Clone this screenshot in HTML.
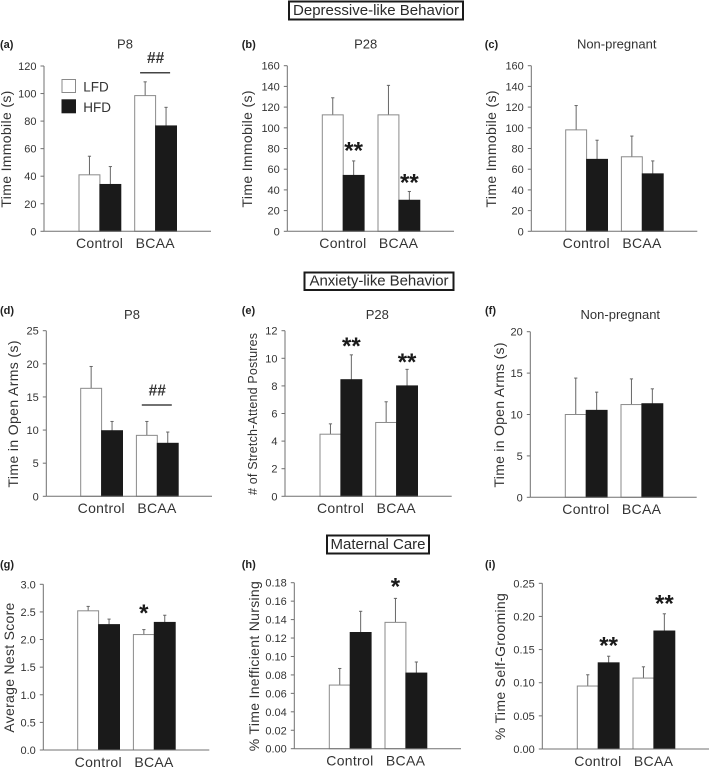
<!DOCTYPE html>
<html>
<head>
<meta charset="utf-8">
<title>Behavior bar charts</title>
<style>
html,body{margin:0;padding:0;background:#fff;width:709px;height:768px;overflow:hidden}
svg{display:block;font-family:"Liberation Sans",Arial,sans-serif}
</style>
</head>
<body>
<svg id="fig" width="709" height="768" viewBox="0 0 709 768" xmlns="http://www.w3.org/2000/svg">
  <g>
    <rect x="289" y="1.5" width="174" height="18" fill="#fff" stroke="#1a1a1a" stroke-width="2"/>
    <text x="376" y="15" text-anchor="middle" font-size="15" fill="#2a2a2a" textLength="166">Depressive-like Behavior</text>
  </g>
  <g>
    <rect x="304.5" y="272.5" width="149" height="17.5" fill="#fff" stroke="#1a1a1a" stroke-width="2"/>
    <text x="379" y="285.5" text-anchor="middle" font-size="15" fill="#2a2a2a" textLength="139">Anxiety-like Behavior</text>
  </g>
  <g>
    <rect x="327" y="535.5" width="102" height="18" fill="#fff" stroke="#1a1a1a" stroke-width="2"/>
    <text x="378" y="549" text-anchor="middle" font-size="15" fill="#2a2a2a" textLength="95">Maternal Care</text>
  </g>
</svg>
<script>
const categories = ['Control', 'BCAA'];
const seriesNames = ['LFD', 'HFD'];

const aTicks = ['0', '20', '40', '60', '80', '100', '120'];
const aLfd = [41, 98.5];
const aHfd = [34, 76.5];
const aLfdErr = [13.5, 10];
const aHfdErr = [13, 13.5];

const bTicks = ['0', '20', '40', '60', '80', '100', '120', '140', '160'];
const bLfd = [112.5, 112.5];
const bHfd = [54, 30];
const bLfdErr = [16.5, 28.5];
const bHfdErr = [14, 8.5];

const cTicks = ['0', '20', '40', '60', '80', '100', '120', '140', '160'];
const cLfd = [98, 72];
const cHfd = [69.5, 55.5];
const cLfdErr = [23.5, 20];
const cHfdErr = [18.5, 12.5];

const dTicks = ['0', '5', '10', '15', '20', '25'];
const dLfd = [16.3, 9.2];
const dHfd = [9.9, 8];
const dLfdErr = [3.3, 2.1];
const dHfdErr = [1.4, 1.7];

const eTicks = ['0', '2', '4', '6', '8', '10', '12'];
const eLfd = [4.5, 5.35];
const eHfd = [8.45, 8];
const eLfdErr = [0.75, 1.5];
const eHfdErr = [1.8, 1.2];

const fTicks = ['0', '5', '10', '15', '20'];
const fLfd = [10, 11.2];
const fHfd = [10.5, 11.3];
const fLfdErr = [4.4, 3.1];
const fHfdErr = [2.2, 1.8];

const gTicks = ['0.0', '0.5', '1.0', '1.5', '2.0', '2.5', '3.0'];
const gLfd = [2.52, 2.09];
const gHfd = [2.27, 2.31];
const gLfdErr = [0.08, 0.09];
const gHfdErr = [0.1, 0.13];

const hTicks = ['0.00', '0.02', '0.04', '0.06', '0.08', '0.10', '0.12', '0.14', '0.16', '0.18'];
const hLfd = [0.069, 0.137];
const hHfd = [0.126, 0.082];
const hLfdErr = [0.018, 0.026];
const hHfdErr = [0.023, 0.012];

const iTicks = ['0.00', '0.05', '0.10', '0.15', '0.20', '0.25'];
const iLfd = [0.095, 0.107];
const iHfd = [0.13, 0.178];
const iLfdErr = [0.017, 0.017];
const iHfdErr = [0.01, 0.026];

const panels = [
  {id:'a', letterX:0, letterY:48, title:'P8', titleX:125, titleY:48.5, yTitle:'Time Immobile (s)', yTitleX:11, yTitleLen:117, yFont:14,
   axisX:44, top:66, bottom:231.3, right:211, barStart:79, ticks:aTicks, lfd:aLfd, hfd:aHfd, lfdErr:aLfdErr, hfdErr:aHfdErr,
   stars:[], hash:[{group:1, level:115.1}]},
  {id:'b', letterX:241.7, letterY:48, title:'P28', titleX:365.7, titleY:48.5, yTitle:'Time Immobile (s)', yTitleX:252, yTitleLen:117, yFont:14,
   axisX:287.3, top:65.7, bottom:231.3, right:454, barStart:322.3, ticks:bTicks, lfd:bLfd, hfd:bHfd, lfdErr:bLfdErr, hfdErr:bHfdErr,
   stars:[{group:0, bar:1, level:82.4, mark:'**'}, {group:1, bar:1, level:51.5, mark:'**'}], hash:[]},
  {id:'c', letterX:484.7, letterY:48, title:'Non-pregnant', titleX:616.7, titleY:48.5, yTitle:'Time Immobile (s)', yTitleX:496, yTitleLen:117, yFont:14,
   axisX:531.3, top:65.7, bottom:231.3, right:697.3, barStart:565.7, ticks:cTicks, lfd:cLfd, hfd:cHfd, lfdErr:cLfdErr, hfdErr:cHfdErr,
   stars:[], hash:[]},
  {id:'d', letterX:0, letterY:314, title:'P8', titleX:132, titleY:319, yTitle:'Time in Open Arms (s)', yTitleX:18, yTitleLen:147, yFont:14,
   axisX:46.3, top:330.7, bottom:496.3, right:212, barStart:80.7, ticks:dTicks, lfd:dLfd, hfd:dHfd, lfdErr:dLfdErr, hfdErr:dHfdErr,
   stars:[], hash:[{group:1, level:13.78}]},
  {id:'e', letterX:241.7, letterY:314, title:'P28', titleX:377.3, titleY:319, yTitle:'# of Stretch-Attend Postures', yTitleX:257, yTitleLen:162, yFont:12.5,
   axisX:285, top:330.7, bottom:496.3, right:451.7, barStart:320, ticks:eTicks, lfd:eLfd, hfd:eHfd, lfdErr:eLfdErr, hfdErr:eHfdErr,
   stars:[{group:0, bar:1, level:11.2, mark:'**'}, {group:1, bar:1, level:10.04, mark:'**'}], hash:[]},
  {id:'f', letterX:485, letterY:314, title:'Non-pregnant', titleX:620.3, titleY:319, yTitle:'Time in Open Arms (s)', yTitleX:504, yTitleLen:145, yFont:14,
   axisX:530.3, top:331.7, bottom:497.3, right:696.7, barStart:565.3, ticks:fTicks, lfd:fLfd, hfd:fHfd, lfdErr:fLfdErr, hfdErr:fHfdErr,
   stars:[], hash:[]},
  {id:'g', letterX:0, letterY:568, title:'', yTitle:'Average Nest Score', yTitleX:14, yTitleLen:130, yFont:14,
   axisX:43.3, top:584.3, bottom:750, right:209.3, barStart:77.7, ticks:gTicks, lfd:gLfd, hfd:gHfd, lfdErr:gLfdErr, hfdErr:gHfdErr,
   stars:[{group:1, bar:0, level:2.565, mark:'*'}], hash:[]},
  {id:'h', letterX:241.7, letterY:568, title:'', yTitle:'% Time Inefficient Nursing', yTitleX:259, yTitleLen:170, yFont:14,
   axisX:294.3, top:582.7, bottom:748.7, right:461, barStart:329.3, ticks:hTicks, lfd:hLfd, hfd:hHfd, lfdErr:hLfdErr, hfdErr:hHfdErr,
   stars:[{group:1, bar:0, level:0.181, mark:'*'}], hash:[]},
  {id:'i', letterX:485, letterY:568, title:'', yTitle:'% Time Self-Grooming', yTitleX:505, yTitleLen:147, yFont:14,
   axisX:542.3, top:583.3, bottom:749, right:709, barStart:577.3, ticks:iTicks, lfd:iLfd, hfd:iHfd, lfdErr:iLfdErr, hfdErr:iHfdErr,
   stars:[{group:0, bar:1, level:0.163, mark:'**'}, {group:1, bar:1, level:0.226, mark:'**'}], hash:[]}
];

const BAR_W = 20.9;
const GROUP_STEP = 55.7;
const AXIS = '#707070';
const INK = '#333';
const fig = document.getElementById('fig');

function make(tag, attrs, parent, text) {
  const node = document.createElementNS('http://www.w3.org/2000/svg', tag);
  for (const k in attrs) node.setAttribute(k, attrs[k]);
  if (text !== undefined) node.textContent = text;
  parent.appendChild(node);
  return node;
}

panels.forEach(function (p) {
  const maxV = parseFloat(p.ticks[p.ticks.length - 1]);
  const yScale = function (v) { return p.bottom - (v / maxV) * (p.bottom - p.top); };
  const barX = function (g, s) { return p.barStart + g * GROUP_STEP + s * BAR_W; };

  const g = make('g', {}, fig);
  
  

  const letter = make('text', {x: p.letterX, y: p.letterY, 'font-size': 11, 'font-weight': 'bold', fill: '#222'}, g, '(' + p.id + ')');
  
  

  if (p.title) {
    const title = make('text', {x: p.titleX, y: p.titleY, 'font-size': 13, 'text-anchor': 'middle', fill: INK}, g, p.title);
    
    
  }

  const midY = (p.top + p.bottom) / 2 + 0.5;
  const yTitle = make('text', {x: p.yTitleX, y: midY, 'font-size': p.yFont, 'text-anchor': 'middle', fill: INK,
    textLength: p.yTitleLen, transform: 'rotate(-90 ' + p.yTitleX + ' ' + midY + ')'}, g, p.yTitle);
  
  

  p.ticks.forEach(function (label) {
    const ty = yScale(parseFloat(label));
    const tick = make('line', {x1: p.axisX - 3.5, x2: p.axisX, y1: ty, y2: ty, stroke: AXIS, 'stroke-width': 1}, g);
    
    
    const tl = make('text', {x: p.axisX - 7.5, y: ty + 4, 'font-size': 11, 'text-anchor': 'end', fill: INK}, g, label);
    
    
  });

  categories.forEach(function (cat, gi) {
    [[p.lfd, p.lfdErr, 0], [p.hfd, p.hfdErr, 1]].forEach(function (s) {
      const v = s[0][gi];
      const e = s[1][gi];
      const si = s[2];
      const cx = barX(gi, si) + BAR_W / 2;

      const err = make('line', {x1: cx, x2: cx, y1: yScale(v), y2: yScale(v + e), stroke: '#666', 'stroke-width': 1}, g);
      
      
      const cap = make('line', {x1: cx - 1.6, x2: cx + 1.6, y1: yScale(v + e), y2: yScale(v + e), stroke: '#666', 'stroke-width': 1}, g);
      
      

      const bar = make('rect', {x: barX(gi, si), y: yScale(v), width: BAR_W, height: p.bottom - yScale(v),
        fill: si === 0 ? '#fff' : '#1a1a1a', stroke: si === 0 ? '#8a8a8a' : '#1a1a1a', 'stroke-width': 1}, g);
      
      
    });

    const xl = make('text', {x: barX(gi, 1) - 0.3, y: p.bottom + 16.8, 'font-size': 14, 'text-anchor': 'middle', 'letter-spacing': 0.3, fill: INK}, g, cat);
    
    
  });

  const yAxis = make('line', {x1: p.axisX, x2: p.axisX, y1: p.top, y2: p.bottom, stroke: AXIS, 'stroke-width': 1}, g);
  
  
  const xAxis = make('line', {x1: p.axisX, x2: p.right, y1: p.bottom, y2: p.bottom, stroke: AXIS, 'stroke-width': 1}, g);
  
  

  p.stars.forEach(function (s) {
    const star = make('text', {x: barX(s.group, s.bar) + BAR_W / 2, y: yScale(s.level) + 12.5, 'font-size': 24, 'font-weight': 'bold', 'text-anchor': 'middle', fill: '#1a1a1a'}, g, s.mark);
    
    
  });

  p.hash.forEach(function (h) {
    const cx = barX(h.group, 1) - 0.5;
    const ly = yScale(h.level);
    const line = make('line', {x1: cx - 15, x2: cx + 15, y1: ly, y2: ly, stroke: '#444', 'stroke-width': 1.5}, g);
    
    
    const hash = make('text', {x: cx + 0.5, y: ly - 9.5, 'font-size': 15.5, 'font-weight': 'bold', 'text-anchor': 'middle', fill: '#333'}, g, '##');
    
    
  });

  if (p.id === 'a') {
    const legend = make('g', {}, g);
    
    
    seriesNames.forEach(function (name, i) {
      const ly = 79.5 + i * 20.3;
      const sw = make('rect', {x: 62, y: ly, width: 13.5, height: 13, fill: i === 0 ? '#fff' : '#1a1a1a', stroke: i === 0 ? '#8a8a8a' : '#1a1a1a', 'stroke-width': 1}, legend);
      
      
      const lt = make('text', {x: 83.3, y: ly + 12, 'font-size': 13.5, fill: INK}, legend, name);
      
      
    });
  }
});
</script>
</body>
</html>
